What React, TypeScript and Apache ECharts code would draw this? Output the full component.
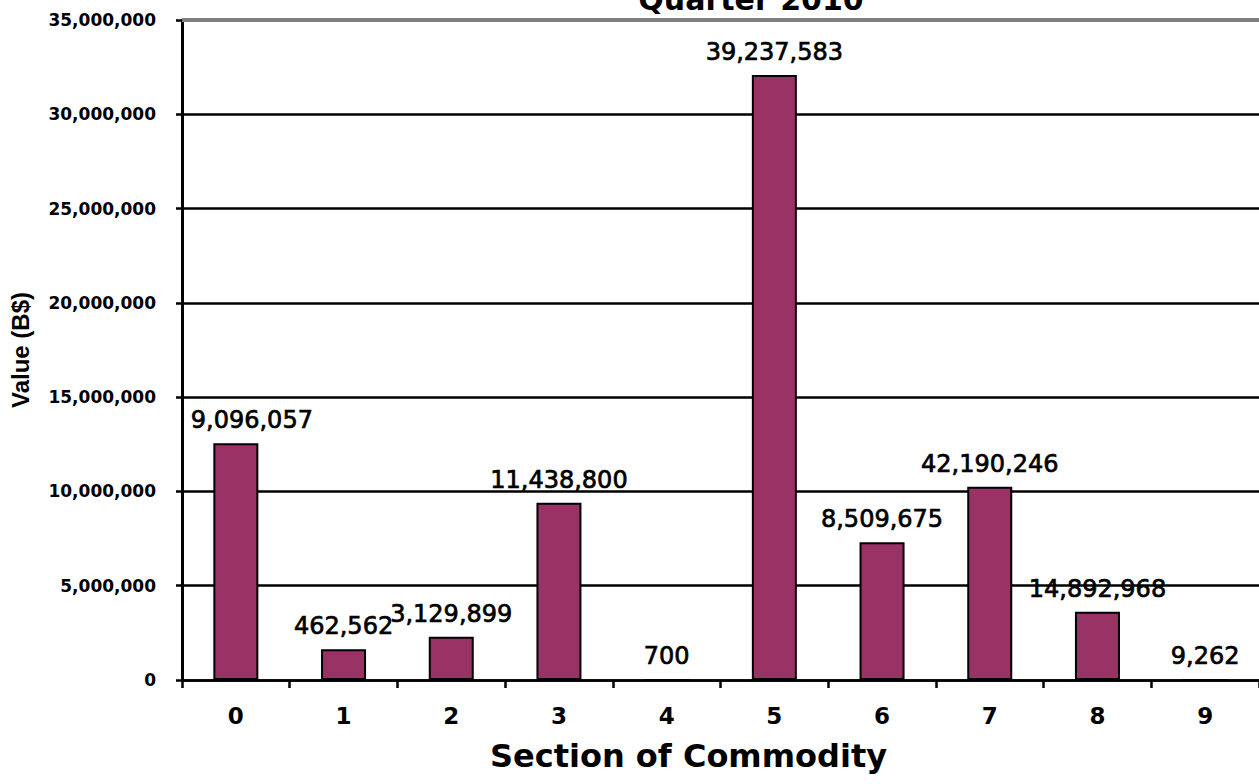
import React, { useEffect, useRef } from "react";
import * as echarts from "echarts";

const categories = ["0", "1", "2", "3", "4", "5", "6", "7", "8", "9"];
const barValues = [12550000, 1630000, 2300000, 9400000, 700, 32080000, 7300000, 10250000, 3620000, 9262];
const labelTexts = [
  "9,096,057",
  "462,562",
  "3,129,899",
  "11,438,800",
  "700",
  "39,237,583",
  "8,509,675",
  "42,190,246",
  "14,892,968",
  "9,262",
];
const yMin = 0;
const yMax = 35000000;
const yStep = 5000000;

export default function App() {
  const ref = useRef<HTMLDivElement>(null);
  useEffect(() => {
    if (!ref.current) return;
    const chart = echarts.init(ref.current, undefined, { renderer: "svg" });
    const option: any = {
      animation: false,
      backgroundColor: "#ffffff",
      title: {
        text: "Quarter 2010",
        left: 751,
        textAlign: "center",
        top: -16,
        padding: 0,
        textStyle: { fontFamily: "DejaVu Sans", fontWeight: "bold", fontSize: 30, color: "#000" },
      },
      grid: { left: 181, right: -2, top: 20, bottom: 104, containLabel: false },
      xAxis: {
        type: "category",
        data: categories,
        axisLine: { show: true, lineStyle: { color: "#000", width: 2.5 } },
        axisTick: { show: true, length: 8, lineStyle: { color: "#000", width: 2.5 } },
        axisLabel: {
          margin: 24,
          fontFamily: "DejaVu Sans",
          fontWeight: "bold",
          fontSize: 23,
          color: "#000",
        },
        name: "Section of Commodity",
        nameLocation: "middle",
        nameGap: 60,
        nameTextStyle: {
          fontFamily: "DejaVu Sans",
          fontWeight: "bold",
          fontSize: 32,
          color: "#000",
          padding: [0, 64, 0, 0],
        },
      },
      yAxis: {
        type: "value",
        min: yMin,
        max: yMax,
        interval: yStep,
        axisLine: { show: true, lineStyle: { color: "#000", width: 3 } },
        axisTick: { show: true, length: 6, lineStyle: { color: "#000", width: 2.5 } },
        splitLine: { show: true, showMaxLine: false, lineStyle: { color: "#000", width: 2.5 } },
        axisLabel: {
          margin: 26,
          fontFamily: "DejaVu Sans",
          fontWeight: "bold",
          fontSize: 17,
          color: "#000",
          formatter: (v: number) => v.toLocaleString("en-US"),
        },
        name: "Value (B$)",
        nameLocation: "middle",
        nameGap: 150,
        nameTextStyle: {
          fontFamily: "Liberation Sans",
          fontWeight: "bold",
          fontSize: 24,
          color: "#000",
        },
      },
      series: [
        {
          type: "bar",
          data: barValues.map((v, i) => (i === 0 ? { value: v, label: { offset: [16, 0] } } : v)),
          barWidth: 45,
          itemStyle: { color: "#993366", borderColor: "#000", borderWidth: 2 },
          label: {
            show: true,
            position: "top",
            distance: 11,
            fontFamily: "DejaVu Sans",
            fontSize: 24,
            color: "#000",
            textBorderColor: "#000",
            textBorderWidth: 0.7,
            formatter: (p: any) => labelTexts[p.dataIndex],
          },
          markLine: {
            silent: true,
            symbol: "none",
            label: { show: false },
            lineStyle: { color: "#808080", width: 4, type: "solid" },
            data: [{ yAxis: yMax }],
          },
        },
      ],
    };
    chart.setOption(option);
    return () => chart.dispose();
  }, []);
  return (
    <div
      ref={ref}
      style={{ position: "absolute", left: 0, top: 0, width: "1259px", height: "784px" }}
    />
  );
}
